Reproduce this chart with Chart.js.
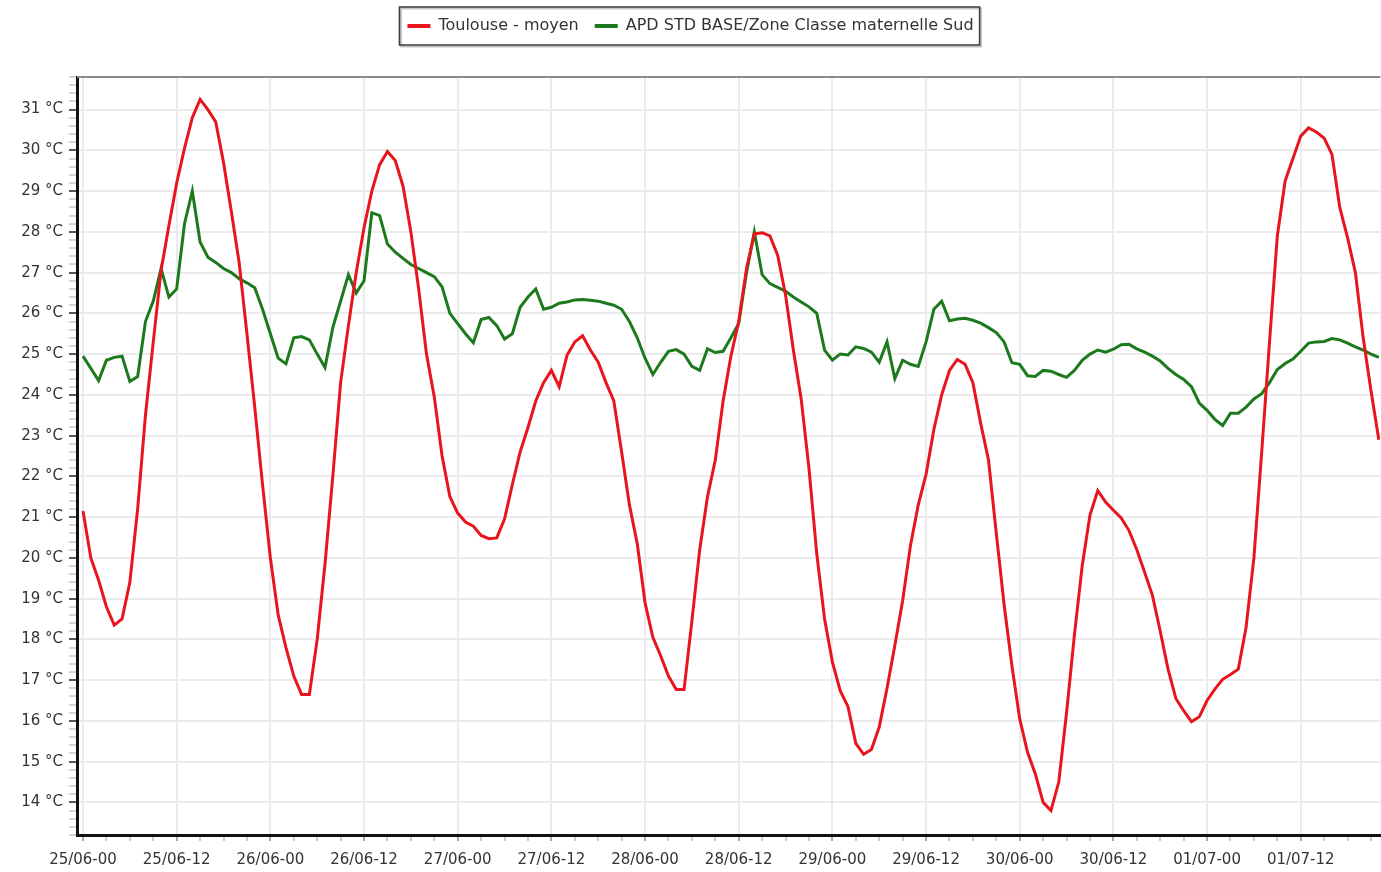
<!DOCTYPE html>
<html lang="fr">
<head>
<meta charset="utf-8">
<title>Températures - Toulouse / Classe maternelle Sud</title>
<script src="https://cdn.jsdelivr.net/npm/chart.js@4.4.1/dist/chart.umd.min.js"></script>
<style>
    html, body { margin: 0; padding: 0; background: #fff; }
    #graphe { display: block; }
</style>
</head>
<body>
<canvas id="graphe" width="1381" height="872"></canvas>
<script>
// une mesure par heure, à partir du 25/06 à 00h
const toulouse = [
    21.15, 20.0, 19.45, 18.8, 18.35, 18.5, 19.4, 21.2, 23.5, 25.3,
    27.05, 28.15, 29.2, 30.05, 30.8, 31.25, 31.0, 30.7, 29.7, 28.5,
    27.25, 25.5, 23.7, 21.8, 20.0, 18.6, 17.8, 17.1, 16.65, 16.65,
    18.0, 19.85, 22.0, 24.3, 25.7, 27.0, 28.1, 29.0, 29.65, 29.97,
    29.75, 29.12, 28.0, 26.6, 25.0, 23.95, 22.5, 21.5, 21.1, 20.88,
    20.78, 20.55, 20.47, 20.49, 20.95, 21.8, 22.6, 23.2, 23.85, 24.3,
    24.6, 24.2, 24.97, 25.3, 25.45, 25.1, 24.8, 24.3, 23.85, 22.6,
    21.3, 20.35, 18.9, 18.05, 17.6, 17.1, 16.77, 16.77, 18.45, 20.2,
    21.5, 22.4, 23.85, 24.95, 25.8, 27.1, 27.95, 27.98, 27.9, 27.42,
    26.45, 25.1, 23.9, 22.2, 20.1, 18.5, 17.45, 16.74, 16.35, 15.45,
    15.18, 15.3, 15.85, 16.8, 17.85, 18.95, 20.3, 21.3, 22.05, 23.15,
    24.0, 24.6, 24.87, 24.75, 24.3, 23.3, 22.4, 20.6, 18.85, 17.35,
    16.05, 15.23, 14.7, 14.0, 13.8, 14.5, 16.2, 18.1, 19.8, 21.05,
    21.65, 21.37, 21.17, 20.98, 20.67, 20.2, 19.65, 19.08, 18.2, 17.27,
    16.55, 16.25, 15.98, 16.1, 16.5, 16.78, 17.02, 17.14, 17.27, 18.3,
    20.0, 22.6, 25.3, 27.9, 29.25, 29.8, 30.35, 30.55, 30.45, 30.3,
    29.9, 28.6, 27.85, 27.0, 25.4, 24.1, 22.9
]

const classeSud = [
    24.95, 24.65, 24.35, 24.85, 24.92, 24.95, 24.33, 24.45, 25.8, 26.3,
    27.1, 26.4, 26.6, 28.2, 29.0, 27.75, 27.38, 27.25, 27.1, 27.0,
    26.85, 26.75, 26.63, 26.1, 25.5, 24.9, 24.76, 25.4, 25.43, 25.35,
    25.0, 24.67, 25.65, 26.3, 26.95, 26.5, 26.8, 28.47, 28.4, 27.7,
    27.5, 27.35, 27.2, 27.1, 27.0, 26.9, 26.65, 26.0, 25.75, 25.5,
    25.28, 25.85, 25.9, 25.7, 25.37, 25.5, 26.15, 26.4, 26.6, 26.1,
    26.15, 26.25, 26.28, 26.33, 26.34, 26.32, 26.3, 26.25, 26.2, 26.1,
    25.8, 25.4, 24.9, 24.5, 24.8, 25.07, 25.11, 25.0, 24.7, 24.6,
    25.13, 25.04, 25.07, 25.4, 25.75, 27.0, 28.0, 26.95, 26.73, 26.64,
    26.54, 26.4, 26.28, 26.16, 26.0, 25.1, 24.85, 25.0, 24.98, 25.18,
    25.14, 25.05, 24.8, 25.3, 24.4, 24.85, 24.75, 24.7, 25.3, 26.1,
    26.3, 25.82, 25.86, 25.88, 25.83, 25.76, 25.65, 25.53, 25.3, 24.79,
    24.75, 24.47, 24.45, 24.6, 24.58, 24.5, 24.43, 24.6, 24.85, 25.0,
    25.1, 25.05, 25.12, 25.23, 25.24, 25.13, 25.05, 24.95, 24.83, 24.65,
    24.5, 24.38, 24.2, 23.8, 23.62, 23.4, 23.25, 23.55, 23.55, 23.7,
    23.9, 24.03, 24.3, 24.62, 24.77, 24.88, 25.07, 25.27, 25.3, 25.31,
    25.38, 25.35, 25.27, 25.18, 25.1, 25.0, 24.92
]

// heure de chaque mesure depuis le début
const heures = toulouse.map((v, i) => i)

// libellés de l'axe du temps, toutes les 12 heures
const etiquettes = [
    '25/06-00', '25/06-12', '26/06-00', '26/06-12', '27/06-00', '27/06-12', '28/06-00',
    '28/06-12', '29/06-00', '29/06-12', '30/06-00', '30/06-12', '01/07-00', '01/07-12'
]

const series = ['Toulouse - moyen', 'APD STD BASE/Zone Classe maternelle Sud']

const rouge = '#e8141e'
const vert = '#1c7a1c'
const police = { family: 'DejaVu Sans', size: 15 }

function estEntier(v) {
    return Math.abs(v - Math.round(v)) < 1e-6
}

function points(valeurs) {
    return heures.map((h, i) => ({ x: h, y: valeurs[i] }))
}

// la légende prend toute la bande du haut
const hauteurLegende = {
    id: 'hauteurLegende',
    beforeInit(chart) {
        const fitOrig = chart.legend.fit
        chart.legend.fit = function () {
            fitOrig.bind(chart.legend)()
            this.height = 75
        }
    }
}

// bord du haut de la zone de tracé + cadre de la légende
const cadres = {
    id: 'cadres',
    afterDraw(chart) {
        const { ctx, chartArea } = chart
        ctx.save()
        ctx.strokeStyle = '#8c8c8c'
        ctx.lineWidth = 2
        ctx.beginPath()
        ctx.moveTo(chartArea.left, chartArea.top)
        ctx.lineTo(chartArea.right, chartArea.top)
        ctx.stroke()

        const boites = chart.legend.legendHitBoxes
        const gauche = Math.min(...boites.map(b => b.left)) - 8
        const droite = Math.max(...boites.map(b => b.left + b.width)) + 6
        const milieu = boites[0].top + boites[0].height / 2
        ctx.strokeStyle = '#c4c4c4' // ombre
        ctx.lineWidth = 2
        ctx.strokeRect(gauche + 1.5, milieu - 19 + 1.5, droite - gauche, 38)
        ctx.strokeStyle = '#3a3a3a'
        ctx.lineWidth = 1.5
        ctx.strokeRect(gauche, milieu - 19, droite - gauche, 38)
        ctx.restore()
    }
}

const ctx = document.getElementById('graphe').getContext('2d')

const chart = new Chart(ctx, {
    type: 'line',
    data: {
        datasets: [{
            label: series[0],
            data: points(toulouse),
            borderColor: rouge,
            backgroundColor: rouge,
            borderWidth: 3,
            pointRadius: 0,
            tension: 0
        }, {
            label: series[1],
            data: points(classeSud),
            borderColor: vert,
            backgroundColor: vert,
            borderWidth: 3,
            pointRadius: 0,
            tension: 0
        }]
    },
    options: {
        responsive: false,
        animation: false,
        layout: { padding: { top: 2, left: 0, right: 0, bottom: 0 } },
        plugins: {
            legend: {
                position: 'top',
                labels: {
                    boxWidth: 23,
                    boxHeight: 4,
                    padding: 16,
                    color: '#333',
                    font: { family: 'DejaVu Sans', size: 16, lineHeight: 1 },
                    generateLabels: chart => chart.data.datasets.map((ds, i) => ({
                        text: ds.label,
                        fillStyle: ds.borderColor,
                        strokeStyle: ds.borderColor,
                        lineWidth: 0,
                        hidden: false,
                        fontColor: '#333',
                        datasetIndex: i
                    }))
                }
            },
            tooltip: { enabled: false }
        },
        scales: {
            x: {
                type: 'linear',
                min: -0.77,
                max: 166.2,
                afterFit: scale => { scale.height = 37 },
                ticks: {
                    stepSize: 3,
                    autoSkip: false,
                    maxRotation: 0,
                    includeBounds: false,
                    padding: 10,
                    color: '#333',
                    font: police,
                    callback: v => v % 12 === 0 ? etiquettes[v / 12] : ''
                },
                grid: {
                    color: c => c.tick && c.tick.value % 12 === 0 ? '#ebebeb' : 'transparent',
                    lineWidth: 2,
                    tickLength: 6,
                    tickColor: c => c.tick && c.tick.value % 12 === 0 ? '#555' : '#999',
                    tickWidth: 1
                },
                border: { color: '#111', width: 3 }
            },
            y: {
                min: 13.2,
                max: 31.8,
                afterFit: scale => { scale.width = 77 },
                ticks: {
                    stepSize: 0.2,
                    autoSkip: false,
                    includeBounds: false,
                    padding: 6,
                    color: '#333',
                    font: police,
                    callback: v => estEntier(v) ? Math.round(v) + ' °C' : ''
                },
                grid: {
                    color: c => c.tick && estEntier(c.tick.value) ? '#ebebeb' : 'transparent',
                    lineWidth: 2,
                    tickLength: 8,
                    tickColor: c => c.tick && estEntier(c.tick.value) ? '#555' : '#aaa',
                    tickWidth: c => c.tick && estEntier(c.tick.value) ? 2 : 1
                },
                border: { color: '#111', width: 3 }
            }
        }
    },
    plugins: [hauteurLegende, cadres]
})
</script>
</body>
</html>
